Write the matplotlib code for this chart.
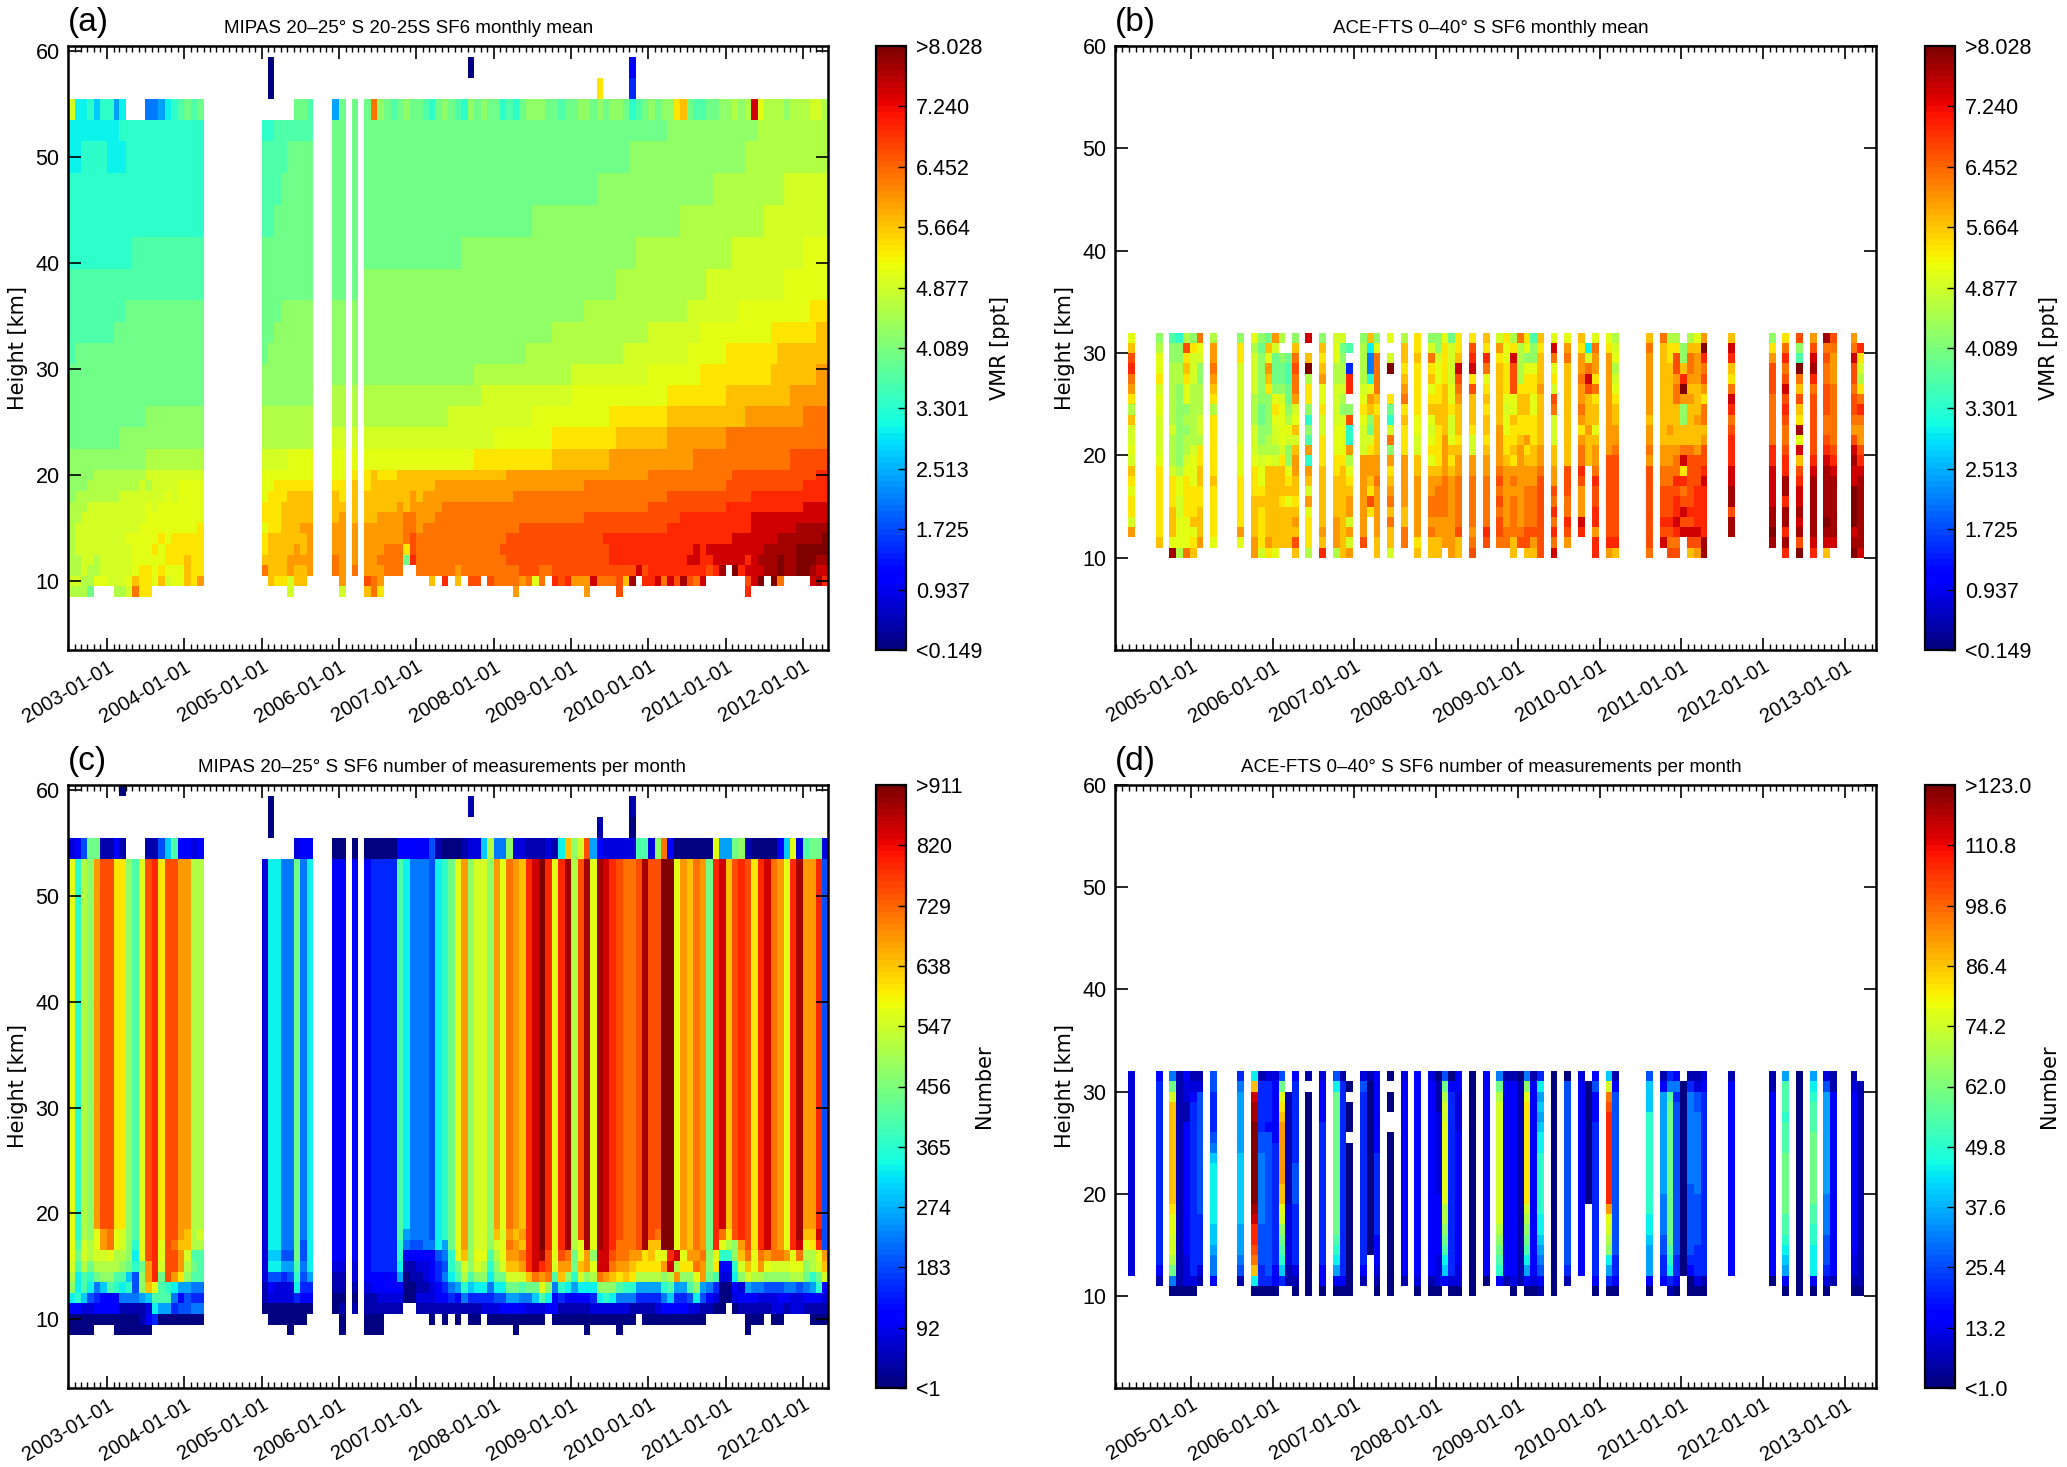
import numpy as np
import pandas as pd
import matplotlib
matplotlib.use("Agg")
import matplotlib.pyplot as plt
import matplotlib.dates as mdates

plt.rcParams['font.family'] = ['Liberation Sans', 'DejaVu Sans']
plt.rcParams['mathtext.default'] = 'regular'

W, H = 2067, 1467
CODES = "abcdefghijklmnopqrstuvwxyz"

# values are colour-scale codes: a = bottom of colorbar, z = top
# MIPAS rows: one space separated group per year, a short group repeats its last code
group_sizes = [6] + [12] * 9 + [4]

mipas_vmr_edges = [8.5, 9.5, 10.5, 11.5, 12.5, 13.5, 14.5, 15.5, 16.5, 17.5, 18.5, 19.5, 20.5,
                   22.5, 24.5, 26.5, 28.5, 30.5, 32.5, 34.5, 36.5, 39.5, 42.5, 45.5, 48.5, 51.5, 53.5,
                   55.5, 57.5, 59.5]
mipas_vmr_rows = [
    "ooom.. .oopurr. . ....p. p...sur. . ...t. ..t....v. . ...w. .",
    "ppooqq pppqsrrqspqq srt. .srrpss... t...vut. ..s.w.s.vv.v uuuutuqu.wvw tttxuuuvsy.w wxuxvyvux. ...vxz.zu. .xyw",
    "oopoop ppppqrrqrqqq srr. ussstsst...u t.u.tttuuu.. uuuuuutuuuuu uuuuvvvuuvvv vvvvvvvvvvxv wwwwwwwwwvwy .zwxxxyyzyyz zyxx",
    "ooppop ppppqqqqqrrr srr. sssstttt...u t.t.ttuuuumw u uuvvvvvvvvvv vvvvvvwwwwww wwwwwwxxwwxx xxxwxyyyzyyz zzyy",
    "oppppp ppppqqqrqrrr rrr. rsssstst...t t.t.tttuuurv u uvv vvvvvvwwwwww wwwwwwwxwxxx xxxxxxyyyyyz zzzz",
    "oppppp pppqqqqqrqrr rrr. rsssssst...t t.t.ttttttuv u uuvv vvvvvwww w wxxxxxxxyyyy yyyz",
    "oppppp pppppqqqqqqq qqr. qrrssstt...t t.t.ttttttuu tu uuuuvv v vvvw wwwwxxxxxxxy y",
    "oopppp ppppppqqqqqq qqq. rrrsssss...s t.s.ssttttuu tttu u uuvv vvvvvw wwwwx x",
    "oooppp ppppppqpqqqq qqq. rrrsssss...s s.s.ssssstst ttttu u u v w x",
    "nooooo oopppppppqpq qqq. qrrrssss...s r.s.ssssssst st tttu u uuuv vvvvw w",
    "nnnooo ooooopoppppq qqq. qqrrrrrr...r r.s.rsssssss ssst t ttu u v w",
    "nnnnoo oooooopppppp ppp. qqqqqqqq...q q.r.rsrrrsss s sst t u uv vvww",
    "n nnnnnnoooooo ooo. ppppqqqq...q q.q.qqqqqqqq qqqqqqqqqrrr rrrrrrrrrsss sssssstttttt tttttttuuuuu uuuuuuuuuuvv v",
    "m mmnnnnnnnnnn nnn. oooooooo...p p.p.pppppppp p qqqqqqqqqrrr rrrrrrrsssss sssttttttttt u u",
    "m mmmmmmnnnnnn nnn. oooooooo...o o.o.oooooooo oooooppppppp ppppppqqqqqq qqqqqqrrrrrr rrrsssssssss sssttttttttt u",
    "m m mmm. nnnnnnnn...o o.o.o oooooooooopp p q qqqrrrrrrrrr sssssssssstt t",
    "m m mmm. nnnnnnnn...n n.n.n nnnnnnnnnooo o p qqqqqqqqrrrr rrrrrrrsssss sstt",
    "lm m mmm. mnnnnnnn...n n.n.n n nnnnnooooooo oooooooopppp ppppppqqqqqq rrrrrrrrssss s",
    "l lmmmmmmmmmmm mmm. mmnnnnnn...n n.n.n n nnnnnnnnnooo o ppppppppqqqq qqqqqqqrrrrr rrss",
    "l lllmmmm mmm. mmmnnnnn...n n.n.n n n nnoooooooooo oooooopppppp ppqqqqqqqqqq qrrr",
    "l l lll. mmmmmmmm...m m.m.n n n nnnnnnnoooo oooooooooppp pppppppppqqq q",
    "k kkkklll lll. mmmmmmmm...m m.m.m mmmmmmmnnnnn n nnnnnnnnnnoo o oppppppppppp q",
    "k k kkk. llmmmmmm...m m.m.m m mmmmmmnnnnnn n nnnnnooooooo oooooopppppp p",
    "k k kkk. lllmmmmm...m m.m.m m m mmmmnnnnnnnn nnnnnnnnnnoo oooooooooppp p",
    "jjk jjjkkk kkk. llllmmmm...m m.m.m m m mmmmmmmmmnnn n nnnooooooooo o",
    "j jjkkk kkk. kkllllll...m m.m.m m m m mmmnnnnnnnnn nnnnnooooooo o",
    "pjjkik khj...gghjkl mlm. .....mml...h m.m.munmlmnm mlkmnmlknmnm mklkmnnnmmlm mnnmnmnnmklm nmnnrsmllmmn nonoxqooonoo oppo",
    ". . . .a. . . . ....r....e.. . . .",
    ". . . .a. . ........a. . .........d.. . . .",
]

mipas_count_edges = [8.5, 9.5, 10.5, 11.5, 12.5, 13.5, 14.5, 15.5, 16.5, 17.5, 18.5, 53.5, 55.5, 57.5, 59.5, 61.5]
mipas_count_rows = [
    "aaaa.. .aaaaaa. . ....a. a...aaa. . ...a. ..a....a. . ...a. .",
    "a aaaaabdeaaaa aaa. .aaaaaa... a...aaa. ..a.a.a.aa.a aaaaaaaa.aaa aaaaaaaaaa.a aaaaaaaaa. ...aaa.aa. .aaa",
    "ddccdd ddbbbbcjhhef fgg. aaaaaaaa...a b.b.bbbbbb.. bbbbbbbbbbcc cddddcccddbb bbbccccccbbb bcddddccbbaa .abbbbbccbcc bbbb",
    "jkifed ddggghilllgd fee. bccccedd...a a.a.bbccccaa cccddedgeeee ffhhggiljded dddejkjgggee eegieefjfdca acdddcccddcc dddc",
    "njljgi lkjkfnsqlkjh hgg. bdcccjee...b b.b.cdddddaa bbcdeghkijjg jjmmlmmqngkj hjjjnnnlkkhh hhklhhlnhgea adchggfffggf ghkd",
    "ojlkmn nllifntwmvtr nll. cffefkfh...b b.c.dddddhab bcdegjlolnnj mmpppsutulsn kpnoutsrsroo oonotnnqtmlc cjnpoonnnnoo mkmp",
    "plomoo oonmkmtwpvvt oml. cjjhhlgj...c c.c.deeeejbb ccdefkmpnpok npsstwxwvptt mstqxxuttsrr rrtxorrutnrd dkpsqtqpppqq nops",
    "qmpopp qoonjqvwqvvt pll. ciiffmfj...d d.d.deeeekdd dddfgkqsnqql oqttuwxyvqvu mqtnxxvuuttr sqqwxqttunqk knsuqutuutqu ooqt",
    "qlpoqt uqpnkqvwqvus soo. cjjggmfj...d d.d.deeeekgf fggjhmqtnppn pqutswxzwqwy oqyqyxwuuuvy sszzqtsutmwq ontvrwxutqwx qrwf",
    "qkonqt uqpnlqvwrvvt sop. cjjggmgj...d d.d.deeeelhg ggfjkmqtnppn sptstwxzwqwy ovyqyxwvuuvy vuzzqtsutmwu rvwvrwxutqwy ssxf",
    "qkontv vrrnlqvwrvvt too. cjjggmgj...d d.d.deeeeljg ggfjkmqtnppn tqutswxzwqwy ovyqyxwvuuvy vvzzqtsutmwx svwvrwxutqwy ttwf",
    "cdfmmb bdb...bbfild dcd. .....cdd...a a.a.aaaaaddd ddfbaaabccio ggnccbbbcbjs npvhdcccccll cnudaaaaaaqh hmnbaaaadiqc lmmc",
    ". . . .a. . . . ....b....a.. . . .",
    ". . . .a. . ........b. . .........b.. . . .",
    ". ..a. . . . . . . . . . .",
]

# ACE-FTS: months that have data (count from 2004-02), heights 10-32 km in 1 km bins
ace_edges = list(range(10, 33))
ace_months = [2, 6, 8, 9, 10, 11, 12, 14, 18, 20, 21, 22, 23, 24, 25, 26, 28, 30, 32, 33, 34, 36, 37, 38,
              40, 42, 44, 46, 47, 48, 49, 50, 52, 54, 56, 57, 58, 59, 60, 61, 62, 64, 66, 68, 69, 70,
              72, 73, 78, 80, 81, 82, 83, 84, 85, 86, 90, 96, 98, 100, 102, 104, 105, 108, 109]
# one string per month, written from 32 km down to 10 km
ace_vmr_cols = [
    "qsvwutrosppqpsrqrrpt..", "noqqrpqqppppqrrrrrrrs.", "lnnoooooopoooprrrsssqy", "knnoonnnnnnnnoqqppqqqo",
    "ovrsrqqnonoopqrrrrqqqu", "nrpppoooooopqqqrrrsqrs", "uqpnnoooppor" + "rssrrssst.", "ottutsrorrrrrrsrrrrrq.",
    "nrrppppppppqqqrrrrrtq.", "qoppppoooppp" + "qrrrsssstt", "nmnnnnnmmnnopqqrsrrrrp", "msqtsrnnnnooq" + "sssssss" + "tr",
    "tpmmmnqrqppopssssssssq", "o.nmmnpqqqqprsssrssss.", "..mllmmnoqpnnqrsqssss.", "nsuvuutpqspsttssrstsvs",
    "x.szorrnknltktsptqrrro", "nsrstqqrpprrrsssssstsw", "pqqoopppp" + "qqqrrssssttto", "pmnooponpqqqr" + "sssssssss",
    ".l.eww.nvkktoqrsttptpt", "noooopqrqppptttttttt" + "v.", "sjggkqtsnmprttsrvr....", "nquuuusrssssttutttttss",
    "q.pz..rmkpuntrstusussp", "ossrstursrrrtttttssuu.", "rrsrrrrrqqppssttttttrs", "npursqrsqpqrqsttuutuss",
    "nnpqqrrssrrrrstuuuttss", "qrrrrsssssttttuuuuttt.", "mppppqqrppqsrstttttttt", "rrsxvutsssrsttuuuuuvss",
    "rvwxrvsssrppttuuuuutuv", "srwuqrsrssrsttuuuuuwv.", "ptrssssssttttuvuvuvvu.", "rqqrrrqpqqrrsttttttuu.",
    "orxvvvqqsrrsrtutuuuuss", "uoooorssrrsttttttttuv.", "rqnqrrssrrtrsttuuuuvvs", "lnnqrrqqrrrssttuuuuvts",
    "srssstsssssttuvvvvvvvv", "qxuqrpvupppsstt" + "vuwuwux", "qtu" + "ssssssssss" + "vvvuuwvt.", "srttuttutrtuuwvtttxw..",
    ".jpuxvsssts" + "ss.........", "quttrurssqsttuwvvwwtww", "qrtttttttttt" + "vvvvvvvv" + "wt", "opqopqrssttu" + "vvvvvvvv" + "ws",
    "sutttttts" + "ttut" + "vvvvvvvv" + "u", "u" + "ssssssssss" + "ttuuvvvwvx.", "orrssssss" + "tsttuuvvvwvuv", "orvvtuusssstuuwvwwxwuv",
    ".nnswztnnssuxrwuvxvx..", "osuutstssssuvvvvvwvxvs", "qstttssstsstvvvwwwwxvt", "tzwuvtruustvvwxwwwwwyy",
    "sxwsruxwuvwwwxxyyvyy..", "nrtvvvuuuuuwwxxxxyyzy.", "ruwuvxvwvuuvwwyywyywyw", "vnlzusvsryqxsvwxxyxyvz",
    "tvxywuvvvvvvwxyyyyyyxw", "yuvuuvvvuuvwxyyyyyzyxs", "vutttuuuuuuvwxyyyyyyx.", "tuxvvuvvutvxyxxzzzzxyz",
    ".wrporuwuttvwxyyyyyyyx",
]
ace_count_cols = [
    "cccccccccccccccccccc..", "deeeeeeeeeeeeeeeeeedb.", "gmpssssssssssrqqppomga", "bbbbbbbbbbbbbbbbbbbbba",
    "dccbb" + "ddddddddddddd" + "ccca", "bcd" + "eeeeeeeeeeeeeeeee" + "ca", "bc" + "ffffffffffff" + "eeeeecb.", "ffeeeefg" + "ijjjjjjiihggd.",
    "eghhhhhhiiiiiiihhhgfb.", "jsxyy" + "zzzzzzzz" + "yxwwvusja", "beeeeeffgggggggffffeea", "ceeeed" + "ffffffffffffff" + "ea",
    "c" + "dddddd" + "eeeeeeeeeeee" + "dda", "fmqrstttttt" + "ssqpnmlkie.", "..bbbbbbbbbbbccccccbb.", "d" + "eeeeeeee" + "ffff" + "eeeeee" + "cba",
    "b.aaaaaaaaaaaaaaaaaaaa", "c" + "dddd" + "eeeeeeeeeeeeee" + "dda", "fj" + "mmmmmmmmmmmmmm" + "lkjhda", "b" + "eeeeeeeeeeeeeeeeeee" + "da",
    ".a.aaa.aaaaaaaaaaaaaaa", "cf" + "eeeeeeeeeeeeeeeee" + "db.", "baaaaaaaaaaaaaaaaa....", "dddddddd" + "eeeeeeee" + "dddcba",
    "a.aa..aaaaaaaaaaaaaaaa", "c" + "ddddddddddddddddddd" + "b.", "dddddddddddddddddddd" + "ca", "c" + "ddddddddddddddddddd" + "ba",
    "abbb" + "cccccccc" + "dddddd" + "ccca", "fmopp" + "qqqqqqqq" + "oonmljid.", "ad" + "eeeeeeeeeeeeeeeeee" + "ca", "ddcccc" + "ddddddddddddd" + "cca",
    "aaaaaaaaaaaaaaaaaaaaaa", "dddddddddddddddddddd" + "a.", "gmo" + "pppppppppppp" + "onmlkd.", "b" + "ddddddddddddddddddd" + "b.",
    "b" + "ddddddddddddddddddd" + "ca", "a" + "bbbbbbbbbbbbbbbbbbbb" + ".", "gnq" + "rrrrrrrrrr" + "ponmljhda", "b" + "ddddddddddddddddddd" + "ca",
    "ejhihijj" + "kkkkkk" + "jjihgfdb", "aaaaaaaaaaaaaaaaaaaaaa", "a" + "ffffffffffffffffff" + "eb.", "c" + "ddddddddddddddddddd" + "..",
    ".aaaaaaaaaaaa.........", "dfddd" + "eeeeeeeeeeeeeee" + "da", "ipuv" + "wwwwwwwww" + "tqponjhea", "bd" + "ffffffffffffffff" + "eeda",
    "fiii" + "kkkkkkkkkk" + "jjihhhda", "bd" + "hhhhhhhhhh" + "gggg" + "ffeed.", "egl" + "mmmmmmmmmmmmmm" + "lkjeb", "dge" + "fffffffffffffff" + "eeda",
    "." + "aaaaaaaaaaaaaaaaaaa" + "..", "be" + "ggggggggg" + "fffffff" + "edaa", "bcff" + "gggggggg" + "fffff" + "eeeca", "cd" + "eeeeeeeeeeeeeeeeee" + "ba",
    "b" + "ddddddddddddddddddd" + "..", "bb" + "dddddddddddddddddd" + "a.", "hlllklll" + "mmmmmm" + "llkjih" + "da", "aaaaaaaaaaaaaaaaaaaaaa",
    "hjklll" + "mmmmmmm" + "llkkjjjda", "cf" + "hhhhhhhhhh" + "gggg" + "fffeca", "bb" + "dddddddddddddddddd" + "b.", "bc" + "dddddddddddddddd" + "ccba",
    ".b" + "bbbbbbbbbbbbbbbbbbb" + "a",
]

# colorbar tick labels
vmr_ticks = ["0.149", "0.937", "1.725", "2.513", "3.301", "4.089", "4.877", "5.664", "6.452", "7.240", "8.028"]
mipas_num_ticks = ["1", "92", "183", "274", "365", "456", "547", "638", "729", "820", "911"]
ace_num_ticks = ["1.0", "13.2", "25.4", "37.6", "49.8", "62.0", "74.2", "86.4", "98.6", "110.8", "123.0"]


def code_values(text):
    # turn letters into colour positions, '.' is no data; orange codes sit a bit lower
    out = []
    for c in text:
        if c == ".":
            out.append(np.nan)
        else:
            i = CODES.index(c)
            out.append(i / 25.0 - (0.012 if 16 <= i <= 22 else 0.0))
    return out


def mipas_grid(rows):
    grid = []
    for row in rows:
        text = ""
        for size, part in zip(group_sizes, row.split()):
            text += part[:size].ljust(size, part[-1])
        grid.append(code_values(text.ljust(118, ".")))
    return np.array(grid)


def ace_grid(cols):
    bad = [(m, c, len(c)) for m, c in zip(ace_months, cols) if len(c) != 22]
    if bad or len(cols) != len(ace_months):
        raise ValueError(f"{len(cols)} columns, bad lengths: {bad}")
    grid = np.full((22, 112), np.nan)
    for month, col in zip(ace_months, cols):
        grid[:, month] = code_values(col)[::-1]
    return grid


def px_axes(fig, left, right, top, bottom):
    return fig.add_axes([left / W, 1 - bottom / H, (right - left) / W, (bottom - top) / H])


def draw_panel(fig, box, cbox, x_edges, y_edges, grid, xlim, ylim, ticks, cb_label, cb_x,
               title, title_x, letter, ylabel_x):
    left, right, top, bottom = box
    ax = px_axes(fig, left, right, top, bottom)
    mesh = ax.pcolormesh(x_edges, y_edges, np.ma.masked_invalid(grid), cmap=plt.get_cmap("jet", 100),
                         vmin=0, vmax=1, linewidth=0, rasterized=True)
    ax.set_xlim(mdates.date2num(pd.Timestamp(xlim[0])), mdates.date2num(pd.Timestamp(xlim[1])))
    ax.set_ylim(*ylim)
    ax.set_yticks(range(10, 61, 10))
    ax.xaxis.set_major_locator(mdates.YearLocator())
    ax.xaxis.set_minor_locator(mdates.MonthLocator())
    ax.xaxis.set_major_formatter(mdates.DateFormatter("%Y-%m-%d"))
    ax.tick_params(which="major", direction="in", top=True, right=True, length=9, width=1.2, labelsize=15.5, pad=6)
    ax.tick_params(which="minor", direction="in", top=True, length=4, width=1)
    ax.tick_params(axis="x", which="major", labelsize=14.5, pad=5)
    plt.setp(ax.get_xticklabels(), rotation=31, ha="right", rotation_mode="anchor")
    for spine in ax.spines.values():
        spine.set_linewidth(1.8)

    cax = px_axes(fig, cbox[0], cbox[1], top, bottom)
    cb = fig.colorbar(mesh, cax=cax, ticks=np.linspace(0, 1, 11))
    labels = list(ticks)
    labels[0] = "<" + labels[0]
    labels[-1] = ">" + labels[-1]
    cb.set_ticklabels(labels)
    cb.ax.tick_params(direction="in", length=6, width=1, labelsize=15.5, pad=7)
    cb.outline.set_linewidth(1.6)

    mid = 1 - (top + bottom) / 2 / H
    fig.text(ylabel_x / W, mid, "Height [km]", rotation=90, ha="center", va="center", fontsize=15,
             family="DejaVu Sans")
    fig.text(cb_x / W, mid, cb_label, rotation=90, ha="center", va="center", fontsize=15, family="DejaVu Sans")
    fig.text(title_x / W, 1 - (top - 9) / H, title, ha="center", va="bottom", fontsize=13.5)
    fig.text(left / W, 1 - (top - 8) / H, letter, ha="left", va="bottom", fontsize=24)


fig = plt.figure(figsize=(W / 100, H / 100), dpi=100)

mipas_x = mdates.date2num(pd.date_range("2002-07-01", periods=119, freq="MS").to_numpy())
ace_x = mdates.date2num((pd.date_range("2004-02-01", periods=113, freq="MS") - pd.Timedelta(days=4)).to_numpy())
mipas_lim = ("2002-07-01", "2012-04-28")
ace_lim = ("2004-01-28", "2013-05-20")

draw_panel(fig, (68, 828, 46, 650), (876, 906), mipas_x, mipas_vmr_edges, mipas_grid(mipas_vmr_rows),
           mipas_lim, (3.5, 60.5), vmr_ticks, "VMR [ppt]", 1000,
           "MIPAS 20\u201325\u00b0 S 20-25S SF6 monthly mean", 409, "(a)", 18)
draw_panel(fig, (1115, 1876, 46, 650), (1925, 1955), ace_x, ace_edges, ace_grid(ace_vmr_cols),
           ace_lim, (1, 60), vmr_ticks, "VMR [ppt]", 2049,
           "ACE-FTS 0\u201340\u00b0 S SF6 monthly mean", 1491, "(b)", 1065)
draw_panel(fig, (68, 828, 785, 1388), (876, 906), mipas_x, mipas_count_edges, mipas_grid(mipas_count_rows),
           mipas_lim, (3.5, 60.5), mipas_num_ticks, "Number", 984,
           "MIPAS 20\u201325\u00b0 S SF6 number of measurements per month", 442, "(c)", 18)
draw_panel(fig, (1115, 1876, 785, 1388), (1925, 1955), ace_x, ace_edges, ace_grid(ace_count_cols),
           ace_lim, (1, 60), ace_num_ticks, "Number", 2049,
           "ACE-FTS 0\u201340\u00b0 S SF6 number of measurements per month", 1491, "(d)", 1065)

fig.savefig("out.png", dpi=100)
